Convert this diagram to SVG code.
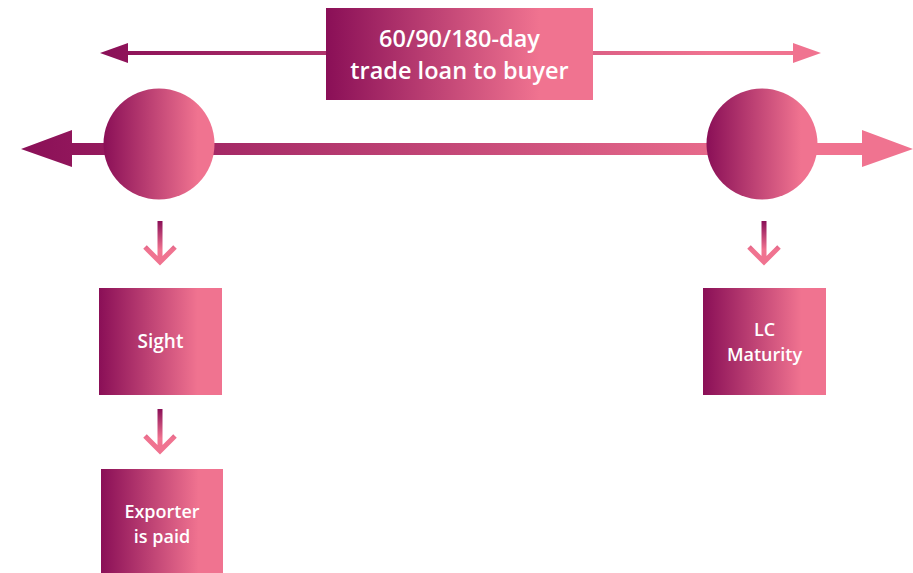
<svg xmlns="http://www.w3.org/2000/svg" width="913" height="573" viewBox="0 0 913 573">
<defs>
<linearGradient id="gBox" x1="0" y1="0" x2="1" y2="0">
<stop offset="0" stop-color="#8A0F57"/>
<stop offset="0.8" stop-color="#F07390"/>
<stop offset="1" stop-color="#F07390"/>
</linearGradient>
<linearGradient id="gCirc" x1="0" y1="0" x2="1" y2="0">
<stop offset="0" stop-color="#8A0F57"/>
<stop offset="0.85" stop-color="#F07390"/>
<stop offset="1" stop-color="#F07390"/>
</linearGradient>
<linearGradient id="gMain" gradientUnits="userSpaceOnUse" x1="21" y1="0" x2="913" y2="0">
<stop offset="0" stop-color="#8A0F57"/>
<stop offset="0.85" stop-color="#F07390"/>
<stop offset="1" stop-color="#F07390"/>
</linearGradient>
<linearGradient id="gTop" gradientUnits="userSpaceOnUse" x1="100" y1="0" x2="821" y2="0">
<stop offset="0" stop-color="#8A0F57"/>
<stop offset="0.85" stop-color="#F07390"/>
<stop offset="1" stop-color="#F07390"/>
</linearGradient>
<linearGradient id="gDown" x1="0" y1="0" x2="0" y2="1">
<stop offset="0" stop-color="#8A0F57"/>
<stop offset="0.7" stop-color="#F07390"/>
<stop offset="1" stop-color="#F07390"/>
</linearGradient>
</defs>
<style>
.lbl{font-family:"Open Sans","Noto Sans","Liberation Sans",sans-serif;font-weight:600;fill:#fff;text-anchor:middle}
.down{fill:none;stroke:url(#gDown);stroke-width:5}
</style>
<g id="connectors">
<path d="M128,51 H793 V43 L821,53 L793,63 V55 H128 V63 L100,53 L128,43 Z" fill="url(#gTop)"/>
<path d="M72,143 H862 V130 L913,149 L862,167 V155 H72 V167 L21,149 L72,130 Z" fill="url(#gMain)"/>
<g class="down">
<path d="M160,221 V262 M145,247 L160,262 L175,247"/>
<path d="M160,409 V451 M145,436 L160,451 L175,436"/>
<path d="M764,221 V262 M749,247 L764,262 L779,247"/>
</g>
</g>
<g id="term">
<rect x="326" y="8" width="267" height="92" fill="url(#gBox)"/>
<text class="lbl" x="459.5" y="47" font-size="23.5">60/90/180-day</text>
<text class="lbl" x="459.5" y="79" font-size="23.5">trade loan to buyer</text>
</g>
<g id="circleLeft"><circle cx="159" cy="144" r="55.5" fill="url(#gCirc)"/></g>
<g id="circleRight"><circle cx="762" cy="144" r="55.5" fill="url(#gCirc)"/></g>
<g id="sight">
<rect x="99" y="288" width="123" height="107" fill="url(#gBox)"/>
<text class="lbl" x="160.5" y="348" font-size="19">Sight</text>
</g>
<g id="exporter">
<rect x="101" y="469" width="122" height="104" fill="url(#gBox)"/>
<text class="lbl" x="162" y="518" font-size="18">Exporter</text>
<text class="lbl" x="162" y="542.5" font-size="18">is paid</text>
</g>
<g id="maturity">
<rect x="703" y="288" width="123" height="107" fill="url(#gBox)"/>
<text class="lbl" x="764.5" y="336" font-size="18">LC</text>
<text class="lbl" x="764.5" y="360.5" font-size="18">Maturity</text>
</g>
</svg>
